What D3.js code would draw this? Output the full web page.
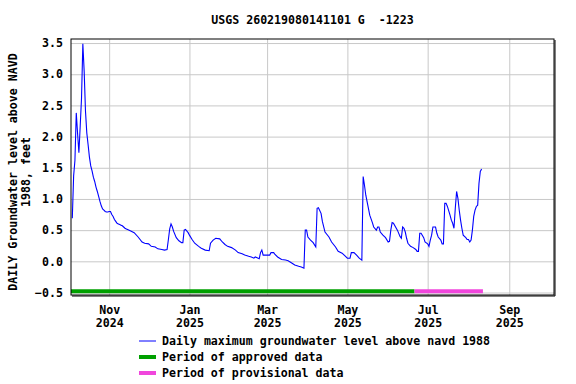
<!DOCTYPE html>
<html>
<head>
<meta charset="utf-8">
<script src="https://cdn.jsdelivr.net/npm/d3@7"></script>
<style>
  body { margin: 0; background: #fff; }
  text { font-family: "DejaVu Sans Mono", monospace; font-weight: bold; font-size: 11.6px; fill: #000; }
</style>
</head>
<body>
<div id="chart"></div>
<script>
// daily max groundwater level
var lineDates = [
  "2024-10-04","2024-10-05","2024-10-06","2024-10-07","2024-10-08","2024-10-09","2024-10-10","2024-10-11",
  "2024-10-12","2024-10-13","2024-10-14","2024-10-15","2024-10-16","2024-10-17","2024-10-18","2024-10-19",
  "2024-10-20","2024-10-21","2024-10-22","2024-10-23","2024-10-24","2024-10-25","2024-10-26","2024-10-27",
  "2024-10-28","2024-10-29","2024-10-30","2024-10-31","2024-11-01","2024-11-02","2024-11-03","2024-11-04",
  "2024-11-05","2024-11-06","2024-11-07","2024-11-08","2024-11-09","2024-11-10","2024-11-11","2024-11-12",
  "2024-11-13","2024-11-14","2024-11-15","2024-11-17","2024-11-20","2024-11-23","2024-11-26","2024-11-28",
  "2024-12-01","2024-12-03","2024-12-06","2024-12-08","2024-12-11","2024-12-13","2024-12-15","2024-12-16",
  "2024-12-17","2024-12-18","2024-12-19","2024-12-20","2024-12-22","2024-12-24","2024-12-26","2024-12-27",
  "2024-12-28","2024-12-29","2024-12-31","2025-01-01","2025-01-03","2025-01-05","2025-01-08","2025-01-10",
  "2025-01-13","2025-01-16","2025-01-17","2025-01-19","2025-01-21","2025-01-24","2025-01-26","2025-01-28",
  "2025-01-30","2025-02-02","2025-02-05","2025-02-07","2025-02-10","2025-02-12","2025-02-15","2025-02-17",
  "2025-02-19","2025-02-20","2025-02-21","2025-02-23","2025-02-24","2025-02-25","2025-02-26","2025-03-01",
  "2025-03-03","2025-03-04","2025-03-06","2025-03-07","2025-03-09","2025-03-12","2025-03-15","2025-03-17",
  "2025-03-20","2025-03-22","2025-03-25","2025-03-27","2025-03-29","2025-03-30","2025-03-31","2025-04-01",
  "2025-04-03","2025-04-05","2025-04-07","2025-04-08","2025-04-09","2025-04-11","2025-04-12","2025-04-14",
  "2025-04-17","2025-04-19","2025-04-22","2025-04-24","2025-04-27","2025-04-29","2025-05-01","2025-05-03",
  "2025-05-04","2025-05-06","2025-05-08","2025-05-10","2025-05-12","2025-05-13","2025-05-14","2025-05-15",
  "2025-05-17","2025-05-18","2025-05-20","2025-05-21","2025-05-23","2025-05-24","2025-05-25","2025-05-26",
  "2025-05-28","2025-05-30","2025-06-01","2025-06-02","2025-06-03","2025-06-04","2025-06-05","2025-06-08",
  "2025-06-10","2025-06-11","2025-06-12","2025-06-13","2025-06-14","2025-06-15","2025-06-16","2025-06-18",
  "2025-06-20","2025-06-22","2025-06-23","2025-06-24","2025-06-25","2025-06-26","2025-06-28","2025-06-29",
  "2025-07-01","2025-07-02","2025-07-03","2025-07-04","2025-07-05","2025-07-07","2025-07-08","2025-07-09",
  "2025-07-11","2025-07-12","2025-07-13","2025-07-14","2025-07-15","2025-07-16","2025-07-18","2025-07-19",
  "2025-07-20","2025-07-21","2025-07-22","2025-07-23","2025-07-24","2025-07-25","2025-07-26","2025-07-27",
  "2025-07-28","2025-07-30","2025-07-31","2025-08-01","2025-08-02","2025-08-03","2025-08-04","2025-08-05",
  "2025-08-06","2025-08-07","2025-08-08","2025-08-09","2025-08-10","2025-08-11"
];
var lineValues = [
  0.69, 1.37, 1.62, 2.38, 2.05, 1.74, 2.17, 2.62,
  3.49, 3.05, 2.41, 2.06, 1.87, 1.67, 1.53, 1.45,
  1.35, 1.28, 1.19, 1.12, 1.04, 0.96, 0.89, 0.84,
  0.82, 0.80, 0.79, 0.79, 0.80, 0.80, 0.75, 0.72,
  0.67, 0.64, 0.61, 0.60, 0.59, 0.58, 0.57, 0.55,
  0.53, 0.52, 0.51, 0.49, 0.46, 0.39, 0.31, 0.29,
  0.28, 0.24, 0.23, 0.20, 0.19, 0.18, 0.19, 0.35,
  0.52, 0.60, 0.55, 0.48, 0.38, 0.33, 0.30, 0.30,
  0.50, 0.51, 0.46, 0.42, 0.35, 0.29, 0.24, 0.21,
  0.18, 0.17, 0.29, 0.34, 0.37, 0.36, 0.31, 0.27,
  0.24, 0.22, 0.18, 0.14, 0.12, 0.10, 0.08, 0.07,
  0.05, 0.07, 0.06, 0.04, 0.14, 0.18, 0.10, 0.10,
  0.10, 0.14, 0.14, 0.11, 0.07, 0.03, 0.02, 0.01,
  -0.03, -0.06, -0.08, -0.09, -0.11, 0.50, 0.50, 0.39,
  0.34, 0.30, 0.23, 0.85, 0.86, 0.77, 0.64, 0.47,
  0.39, 0.31, 0.23, 0.16, 0.13, 0.09, 0.05, 0.05,
  0.14, 0.14, 0.10, 0.05, 0.02, 1.36, 1.22, 1.06,
  0.85, 0.74, 0.62, 0.55, 0.50, 0.55, 0.55, 0.47,
  0.42, 0.38, 0.31, 0.32, 0.50, 0.62, 0.61, 0.50,
  0.40, 0.37, 0.55, 0.53, 0.47, 0.37, 0.29, 0.24,
  0.22, 0.19, 0.16, 0.16, 0.45, 0.45, 0.38, 0.31,
  0.28, 0.24, 0.34, 0.42, 0.55, 0.55, 0.45, 0.39,
  0.34, 0.28, 0.28, 0.93, 0.93, 0.88, 0.74, 0.66,
  0.61, 0.53, 0.85, 1.12, 1.01, 0.82, 0.66, 0.53,
  0.42, 0.38, 0.35, 0.35, 0.31, 0.34, 0.50, 0.72,
  0.82, 0.88, 0.90, 1.25, 1.44, 1.48
];

// approval periods (start, end)
var approvedPeriod = ["2024-10-03", "2025-06-21"];
var provisionalPeriod = ["2025-06-21", "2025-08-12"];
var periodLevel = -0.48;

var xDomain = ["2024-10-03", "2025-10-05"];
var xTicks = ["2024-11-01", "2025-01-01", "2025-03-01", "2025-05-01", "2025-07-01", "2025-09-01"];
var yTicks = [-0.5, 0.0, 0.5, 1.0, 1.5, 2.0, 2.5, 3.0, 3.5];

var titleText = "USGS 260219080141101 G  -1223";
var yLabelLines = ["DAILY Groundwater level above NAVD", "1988, feet"];
var legendLabels = ["Daily maximum groundwater level above navd 1988", "Period of approved data", "Period of provisional data"];
var legendColors = ["#0000ff", "#00a000", "#f046dc"];

var parseDate = d3.timeParse("%Y-%m-%d");

var W = 576, H = 384;
var margin = { top: 39, left: 71 },
    width = 483,
    height = 256;

var svg = d3.select("#chart").append("svg")
    .attr("width", W)
    .attr("height", H);

var x = d3.scaleTime().domain(xDomain.map(parseDate)).range([0, width]);
var y = d3.scaleLinear().domain([-0.54, 3.565]).range([height, 0]);

var g = svg.append("g")
    .attr("transform", "translate(" + margin.left + "," + margin.top + ")");

// grid lines
g.append("g")
    .attr("class", "grid")
    .call(d3.axisLeft(y).tickValues(yTicks).tickSize(-width).tickFormat(""))
    .call(function (s) { s.select(".domain").remove(); s.selectAll("line").attr("stroke", "#c8c8c8"); });

g.append("g")
    .attr("class", "grid")
    .attr("transform", "translate(0," + height + ")")
    .call(d3.axisBottom(x).tickValues(xTicks.map(parseDate)).tickSize(-height).tickFormat(""))
    .call(function (s) { s.select(".domain").remove(); s.selectAll("line").attr("stroke", "#c8c8c8"); });

// approval bars
g.append("line")
    .attr("x1", x(parseDate(approvedPeriod[0]))).attr("x2", x(parseDate(approvedPeriod[1])))
    .attr("y1", y(periodLevel)).attr("y2", y(periodLevel))
    .attr("stroke", legendColors[1]).attr("stroke-width", 4);
g.append("line")
    .attr("x1", x(parseDate(provisionalPeriod[0]))).attr("x2", x(parseDate(provisionalPeriod[1])))
    .attr("y1", y(periodLevel)).attr("y2", y(periodLevel))
    .attr("stroke", legendColors[2]).attr("stroke-width", 4);

// the data line
var data = lineDates.map(function (d, i) { return { date: parseDate(d), value: lineValues[i] }; });
var valueline = d3.line()
    .x(function (d) { return x(d.date); })
    .y(function (d) { return y(d.value); });
g.append("path")
    .datum(data)
    .attr("fill", "none")
    .attr("stroke", legendColors[0])
    .attr("stroke-width", 1.1)
    .attr("d", valueline);

// frame, a bit heavier on right/bottom like the original
g.append("rect")
    .attr("x", 0).attr("y", 0).attr("width", width).attr("height", height)
    .attr("fill", "none").attr("stroke", "#000").attr("stroke-width", 1);
g.append("path")
    .attr("d", "M" + (width + 1) + ",1V" + (height + 1) + "H1")
    .attr("fill", "none").attr("stroke", "#000").attr("stroke-width", 1);

// y axis labels
var yAxis = g.append("g")
    .call(d3.axisLeft(y).tickValues(yTicks).tickSize(0).tickPadding(8).tickFormat(d3.format(".1f")));
yAxis.select(".domain").remove();
yAxis.selectAll("text").attr("font-family", null).attr("font-size", null);

// x axis labels, month over year
var xAxis = g.append("g")
    .attr("transform", "translate(0," + height + ")")
    .call(d3.axisBottom(x).tickValues(xTicks.map(parseDate)).tickSize(0).tickPadding(0).tickFormat(""));
xAxis.select(".domain").remove();
xAxis.selectAll(".tick text").each(function (d) {
    var t = d3.select(this).attr("font-family", null).attr("font-size", null).attr("dy", null).attr("y", 0);
    t.append("tspan").attr("x", 0).attr("y", 19).text(d3.timeFormat("%b")(d));
    t.append("tspan").attr("x", 0).attr("y", 32).text(d3.timeFormat("%Y")(d));
});

// title
svg.append("text")
    .attr("x", margin.left + width / 2)
    .attr("y", 24)
    .attr("text-anchor", "middle")
    .attr("xml:space", "preserve")
    .style("white-space", "pre")
    .text(titleText);

// y title
var yl = svg.append("text")
    .attr("transform", "translate(17,172) rotate(-90)")
    .attr("text-anchor", "middle");
yl.selectAll("tspan").data(yLabelLines).enter().append("tspan")
    .attr("x", 0)
    .attr("y", function (d, i) { return i * 13; })
    .text(function (d) { return d; });

// legend
var legend = svg.append("g").attr("transform", "translate(139,341)");
legendLabels.forEach(function (lab, i) {
    legend.append("line")
        .attr("x1", 0).attr("x2", 17)
        .attr("y1", i * 16).attr("y2", i * 16)
        .attr("stroke", legendColors[i])
        .attr("stroke-width", i === 0 ? 1 : 4);
    legend.append("text")
        .attr("x", 23).attr("y", i * 16 + 4)
        .text(lab);
});
</script>
</body>
</html>
